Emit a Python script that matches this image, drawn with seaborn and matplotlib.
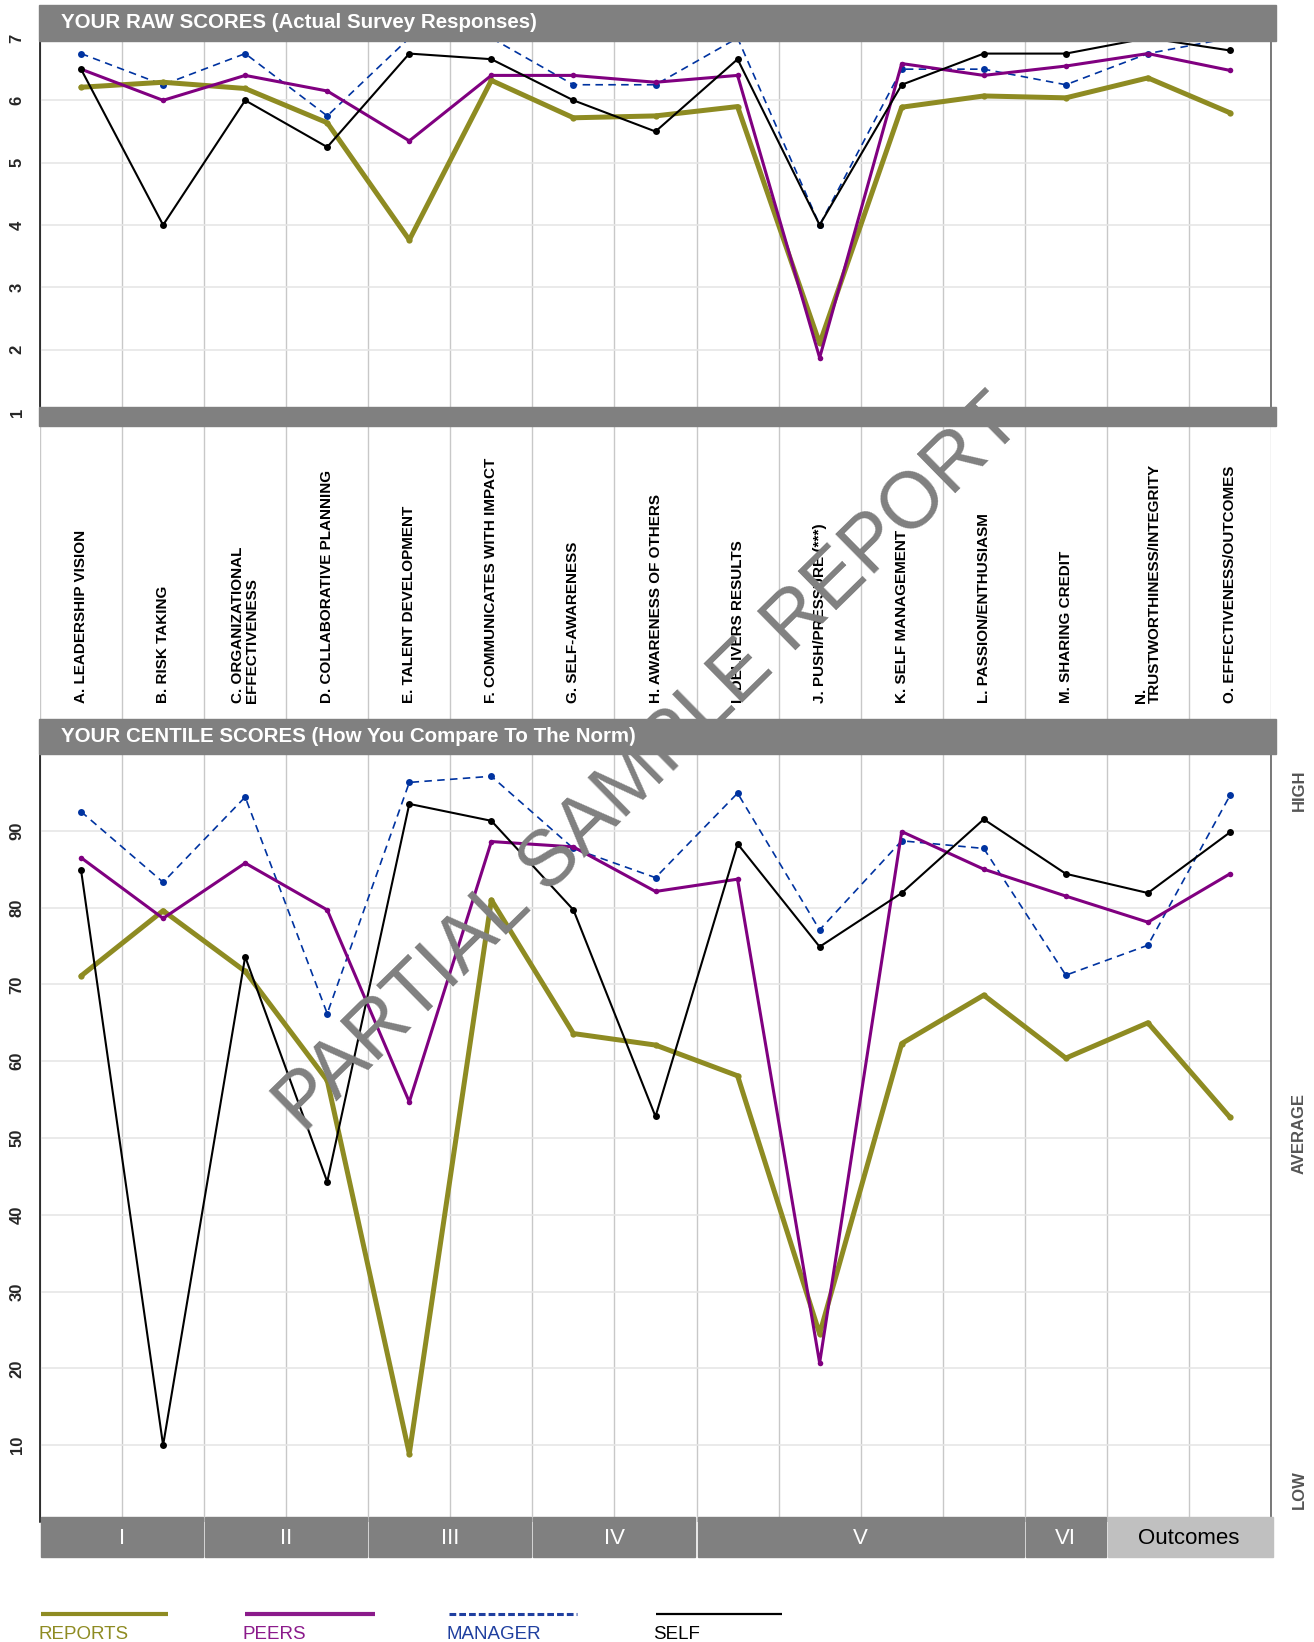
import numpy as np
import pandas as pd
import matplotlib
matplotlib.use("Agg")
import matplotlib.pyplot as plt
import matplotlib.transforms as mtransforms
from matplotlib.patches import Rectangle
import seaborn as sns

# %% — data
categories = [
    "A. LEADERSHIP VISION", "B. RISK TAKING", "C. ORGANIZATIONAL\nEFFECTIVENESS",
    "D. COLLABORATIVE PLANNING", "E. TALENT DEVELOPMENT", "F. COMMUNICATES WITH IMPACT",
    "G. SELF-AWARENESS", "H. AWARENESS OF OTHERS", "I. DELIVERS RESULTS",
    "J. PUSH/PRESSURE (***)", "K. SELF MANAGEMENT", "L. PASSION/ENTHUSIASM",
    "M. SHARING CREDIT", "N.\nTRUSTWORTHINESS/INTEGRITY", "O. EFFECTIVENESS/OUTCOMES",
]

reports_raw = [6.21, 6.29, 6.19, 5.64, 3.76, 6.32, 5.72, 5.75, 5.90, 2.10, 5.89, 6.07, 6.04, 6.36, 5.80]
peers_raw = [6.50, 6.00, 6.40, 6.15, 5.35, 6.40, 6.40, 6.29, 6.40, 1.87, 6.59, 6.40, 6.55, 6.75, 6.48]
manager_raw = [6.75, 6.25, 6.75, 5.75, 7.00, 7.00, 6.25, 6.25, 7.00, 4.00, 6.50, 6.50, 6.25, 6.75, 7.00]
self_raw = [6.50, 4.00, 6.00, 5.25, 6.75, 6.66, 6.00, 5.50, 6.66, 4.00, 6.25, 6.75, 6.75, 7.00, 6.80]

reports_cen = [71.1, 79.6, 71.7, 57.5, 8.9, 81.0, 63.6, 62.1, 58.1, 24.5, 62.3, 68.6, 60.4, 65.0, 52.7]
peers_cen = [86.5, 78.6, 85.8, 79.7, 54.7, 88.6, 87.9, 82.1, 83.7, 20.7, 89.9, 85.0, 81.5, 78.1, 84.4]
manager_cen = [92.5, 83.3, 94.4, 66.2, 96.3, 97.1, 87.7, 83.9, 94.9, 77.1, 88.7, 87.7, 71.2, 75.1, 94.6]
self_cen = [84.9, 10.0, 73.6, 44.3, 93.5, 91.3, 79.7, 52.8, 88.3, 74.9, 81.9, 91.5, 84.4, 81.9, 89.8]

raw_ticks = [1, 2, 3, 4, 5, 6, 7]
cen_ticks = [10, 20, 30, 40, 50, 60, 70, 80, 90]

group_names = ["I", "II", "III", "IV", "V", "VI", "Outcomes"]
group_sizes = [2, 2, 2, 2, 4, 1, 2]

series = ["REPORTS", "PEERS", "MANAGER", "SELF"]

# %% — styling
sns.set_theme(style="white")
plt.rcParams["font.family"] = ["Liberation Sans", "DejaVu Sans"]

W, H = 1314, 1642
GRAY = "#808080"

style = {
    "MANAGER": dict(color="#0033A0", linewidth=1.2, markersize=5.0, linestyle=(0, (4.5, 3.2)), zorder=3),
    "REPORTS": dict(color="#8E8B22", linewidth=3.6, markersize=4.5, linestyle="-", zorder=4),
    "PEERS": dict(color="#800080", linewidth=2.2, markersize=4.0, linestyle="-", zorder=5),
    "SELF": dict(color="#000000", linewidth=1.5, markersize=5.0, linestyle="-", zorder=6),
}
legend_colors = {"REPORTS": "#8E8B22", "PEERS": "#8B1A8B", "MANAGER": "#1F3F9F", "SELF": "#000000"}

raw_df = pd.DataFrame({"idx": range(len(categories)), "REPORTS": reports_raw, "PEERS": peers_raw,
                       "MANAGER": manager_raw, "SELF": self_raw})
cen_df = pd.DataFrame({"idx": range(len(categories)), "REPORTS": reports_cen, "PEERS": peers_cen,
                       "MANAGER": manager_cen, "SELF": self_cen})

fig = plt.figure(figsize=(W / 100, H / 100), dpi=100)


def px_axes(x0, y0, x1, y1, **kw):
    return fig.add_axes([x0 / W, 1 - y1 / H, (x1 - x0) / W, (y1 - y0) / H], **kw)


ax_raw = px_axes(40, 38, 1271, 412)
ax_lab = px_axes(40, 426, 1271, 719)
ax_cen = px_axes(40, 754, 1271, 1522)
over = fig.add_axes([0, 0, 1, 1], zorder=10)
over.set_xlim(0, W)
over.set_ylim(H, 0)
over.set_axis_off()


def draw_lines(ax, df):
    for name in ["MANAGER", "REPORTS", "PEERS", "SELF"]:
        st = style[name]
        sns.lineplot(data=df, x="idx", y=name, ax=ax, color=st["color"], linewidth=st["linewidth"],
                     linestyle=st["linestyle"], marker="o", markersize=st["markersize"],
                     markeredgewidth=0, zorder=st["zorder"], legend=False)
    ax.set_xlabel("")
    ax.set_ylabel("")


def grid_axes(ax):
    ax.set_xlim(-0.5, len(categories) - 0.5)
    ax.set_xticks([])
    ax.set_xticks(np.arange(-0.5, len(categories), 1), minor=True)
    ax.grid(which="minor", axis="x", color="#c8c8c8", linewidth=1.0)
    ax.tick_params(which="both", length=0)
    ax.set_axisbelow(True)


for ax, df, ticks, lim in [(ax_raw, raw_df, raw_ticks, (1, 7)), (ax_cen, cen_df, cen_ticks, (0, 100))]:
    draw_lines(ax, df)
    grid_axes(ax)
    ax.set_ylim(*lim)
    ax.set_yticks(ticks)
    ax.set_yticklabels([str(t) for t in ticks], rotation=90, va="center", fontweight="bold", fontsize=12)
    ax.tick_params(axis="y", pad=11)
    ax.grid(which="major", axis="y", color="#e6e6e6", linewidth=1.2)
    ax.spines["top"].set_visible(False)
    ax.spines["bottom"].set_visible(False)
    ax.spines["left"].set_color("black")
    ax.spines["left"].set_linewidth(1.1)
    ax.spines["right"].set_color("#555555")
    ax.spines["right"].set_linewidth(1.1)

# category label strip
grid_axes(ax_lab)
ax_lab.set_ylim(0, 1)
ax_lab.set_yticks([])
for sp in ax_lab.spines.values():
    sp.set_visible(False)
for i, lab in enumerate(categories):
    ax_lab.text(i, 0.055, lab, rotation=90, ha="center", va="bottom", multialignment="left",
                fontsize=11, fontweight="bold", linespacing=1.0, color="black")

# header bands
over.add_patch(Rectangle((39, 5), 1237, 36, color=GRAY))
over.text(61, 23, "YOUR RAW SCORES (Actual Survey Responses)", color="white", fontweight="bold",
          fontsize=14.8, va="center", ha="left")
over.add_patch(Rectangle((39, 407), 1237, 19, color=GRAY))
over.add_patch(Rectangle((39, 719), 1237, 35, color=GRAY))
over.text(61, 737, "YOUR CENTILE SCORES (How You Compare To The Norm)", color="white", fontweight="bold",
          fontsize=14.8, va="center", ha="left")

# competency group bands under the centile chart
band_tr = mtransforms.blended_transform_factory(ax_cen.transData, over.transData)
start = 0
for name, size in zip(group_names, group_sizes):
    light = name == "Outcomes"
    extra = 0.04 if light else 0.0
    over.add_patch(Rectangle((start - 0.5 + 0.013, 1517), size - 0.026 + extra, 40, transform=band_tr,
                             color="#c0c0c0" if light else GRAY, clip_on=False))
    over.text(start - 0.5 + size / 2, 1538, name, transform=band_tr, ha="center", va="center",
              fontsize=16, color="black" if light else "white")
    start += size

# HIGH / AVERAGE / LOW
for txt, y in [("HIGH", 790), ("AVERAGE", 1134), ("LOW", 1490)]:
    over.text(1299, y, txt, rotation=90, ha="center", va="center", color="#555555",
              fontweight="bold", fontsize=12)

# legend strip at the bottom
legend_x = {"REPORTS": (41, 168), "PEERS": (245, 375), "MANAGER": (449, 577), "SELF": (656, 782)}
legend_lw = {"REPORTS": 3.0, "PEERS": 3.0, "MANAGER": 2.2, "SELF": 1.6}
for name in series:
    x0, x1 = legend_x[name]
    ls = (0, (2.2, 1.0)) if name == "MANAGER" else "-"
    over.plot([x0, x1], [1614, 1614], color=legend_colors[name], linewidth=legend_lw[name], linestyle=ls,
              solid_capstyle="butt")
    over.text(x0 - 3, 1626, name, ha="left", va="top", fontsize=13.5, color=legend_colors[name],
              fontstretch="condensed")

# watermark
over.text(650, 765, "PARTIAL SAMPLE REPORT", rotation=44.5, rotation_mode="anchor", ha="center",
          va="center", fontsize=57, color=GRAY, zorder=20)

plt.savefig("out.png", dpi=100)
